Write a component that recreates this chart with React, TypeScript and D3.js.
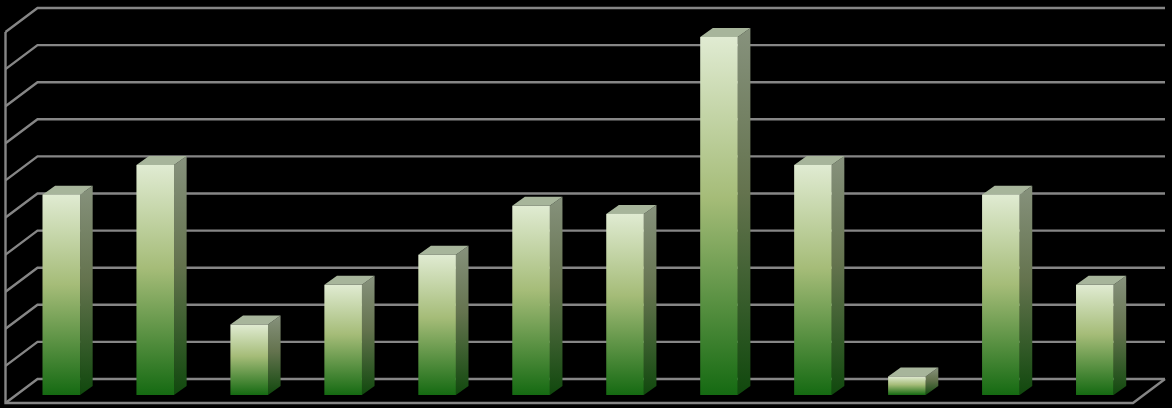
import * as d3 from "d3";

const categories = ["1", "2", "3", "4", "5", "6", "7", "8", "9", "10", "11", "12"];
const values = [5.4, 6.2, 1.9, 2.97, 3.78, 5.1, 4.88, 9.65, 6.2, 0.5, 5.4, 2.97];
const gridTicks = [0, 1, 2, 3, 4, 5, 6, 7, 8, 9, 10];

const width = 1172;
const height = 408;

// 3d box: wall is offset from the front plane by depth
const depth = { x: 32, y: -24 };
const barDepth = { x: 12.6, y: -9 };
const front = { left: 5.5, right: 1133, top: 32, bottom: 403 };
const inset = { x: 8.8, y: -8 }; // bars stand a bit behind the front edge

const gridY = d3.scaleLinear().domain([0, 10]).range([front.bottom, front.top]);
const barY = d3.scaleLinear().domain([0, 10]).range([front.bottom + inset.y, front.top + inset.y]);
const x = d3
  .scaleBand<string>()
  .domain(categories)
  .range([front.left + inset.x, front.right + inset.x])
  .paddingInner(0.6)
  .paddingOuter(0.3);

const gridColor = "#868686";

export default function App() {
  const line = d3.line();
  return (
    <svg
      width={width}
      height={height}
      viewBox={`0 0 ${width} ${height}`}
      style={{ position: "absolute", left: 0, top: 0, background: "#000", display: "block" }}
    >
      <defs>
        <linearGradient id="frontFill" x1="0" y1="0" x2="0" y2="1">
          <stop offset="0" stopColor="#e0ebd2" />
          <stop offset="0.45" stopColor="#a5bc78" />
          <stop offset="1" stopColor="#156a12" />
        </linearGradient>
        <linearGradient id="sideFill" x1="0" y1="0" x2="0" y2="1">
          <stop offset="0" stopColor="#87927d" />
          <stop offset="0.45" stopColor="#64734e" />
          <stop offset="1" stopColor="#10480d" />
        </linearGradient>
      </defs>

      {/* back wall + side wall grid */}
      <g fill="none" stroke={gridColor} strokeWidth={2.4}>
        {gridTicks.map((t) => (
          <path
            key={t}
            d={
              line([
                [front.left, gridY(t)],
                [front.left + depth.x, gridY(t) + depth.y],
                [front.right + depth.x, gridY(t) + depth.y],
              ]) as string
            }
          />
        ))}
        <path
          d={
            line([
              [front.left, front.top],
              [front.left, front.bottom],
              [front.right, front.bottom],
              [front.right + depth.x, front.bottom + depth.y],
            ]) as string
          }
        />
      </g>

      {/* bars */}
      {categories.map((c, i) => {
        const x0 = x(c) as number;
        const x1 = x0 + x.bandwidth();
        const y0 = barY(0);
        const y1 = barY(values[i]);
        return (
          <g key={c}>
            <path
              fill="url(#sideFill)"
              d={
                line([
                  [x1, y1],
                  [x1 + barDepth.x, y1 + barDepth.y],
                  [x1 + barDepth.x, y0 + barDepth.y],
                  [x1, y0],
                ]) + "Z"
              }
            />
            <path
              fill="#a7b59b"
              d={
                line([
                  [x0, y1],
                  [x0 + barDepth.x, y1 + barDepth.y],
                  [x1 + barDepth.x, y1 + barDepth.y],
                  [x1, y1],
                ]) + "Z"
              }
            />
            <rect x={x0} y={y1} width={x1 - x0} height={y0 - y1} fill="url(#frontFill)" />
          </g>
        );
      })}
    </svg>
  );
}
